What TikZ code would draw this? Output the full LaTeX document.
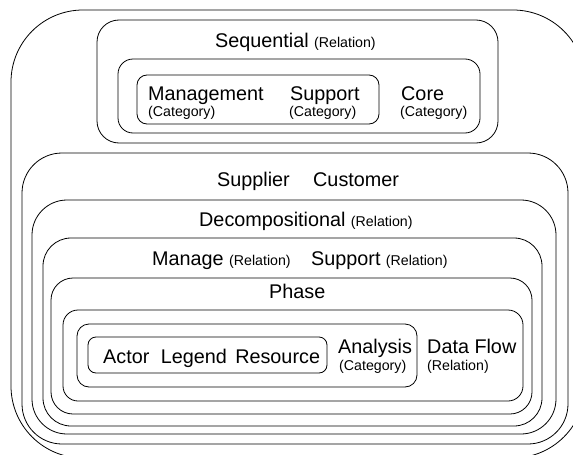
\documentclass[tikz,border=0pt]{standalone}
\usepackage{fontspec}
\setmainfont{Liberation Sans}
\usetikzlibrary{positioning}
\tikzset{>=latex}

\begin{document}
\begin{tikzpicture}[x=1pt,y=-1pt,
    frame/.style={draw,line width=0.8pt},
    big/.style={font=\fontsize{19.8}{22}\selectfont,inner sep=0pt,anchor=base west},
    small/.style={font=\fontsize{14.2}{16}\selectfont,inner sep=0pt,anchor=base west}]
  \useasboundingbox (0,0) rectangle (573,455);
  \clip (0,0) rectangle (573,455);
  % nested frames
  \draw[frame,rounded corners=72pt] (11,10) rectangle (585,458);
  \draw[frame,rounded corners=22pt] (97,20) rectangle (498,143);
  \draw[frame,rounded corners=15pt] (118,59) rectangle (480,133);
  \draw[frame,rounded corners=10pt] (137,75) rectangle (379,124);
  \draw[frame,rounded corners=40pt] (22,153) rectangle (568,444);
  \draw[frame,rounded corners=35pt] (32,200) rectangle (556,434);
  \draw[frame,rounded corners=28pt] (43,238) rectangle (542,426);
  \draw[frame,rounded corners=22pt] (51,278) rectangle (532,414);
  \draw[frame,rounded corners=15pt] (63,310) rectangle (523,401);
  \draw[frame,rounded corners=12pt] (77,324) rectangle (417,387);
  \draw[frame,rounded corners=8pt] (88,337) rectangle (327,373);
  % labels
  \node[big] (seq) at (215,47) {Sequential};
  \node[small,right=5pt of seq.base east,anchor=base west] (seqrel) {(Relation)};
  \node[big] (mgmt) at (148,100) {Management};
  \node[small] (mgmtcat) at (148,116) {(Category)};
  \node[big] (supp) at (290,100) {Support};
  \node[small] (suppcat) at (289,116) {(Category)};
  \node[big] (core) at (401,100) {Core};
  \node[small] (corecat) at (400,116) {(Category)};
  \node[big] (supplier) at (217,186) {Supplier};
  \node[big] (customer) at (313,186) {Customer};
  \node[big] (decomp) at (199,226) {Decompositional};
  \node[small,right=5pt of decomp.base east,anchor=base west] (decomprel) {(Relation)};
  \node[big] (manage) at (152,265) {Manage};
  \node[small,right=5pt of manage.base east,anchor=base west] (managerel) {(Relation)};
  \node[big] (support) at (311,265) {Support};
  \node[small,right=5pt of support.base east,anchor=base west] (supportrel) {(Relation)};
  \node[big] (phase) at (269,298) {Phase};
  \node[big] (actor) at (103,363) {Actor};
  \node[big,right=11pt of actor.base east,anchor=base west] (legend) {Legend};
  \node[big,right=8pt of legend.base east,anchor=base west] (resource) {Resource};
  \node[big] (analysis) at (338,353) {Analysis};
  \node[small] (analysiscat) at (339,370) {(Category)};
  \node[big] (dataflow) at (427,353) {Data Flow};
  \node[small] (dataflowrel) at (427,370) {(Relation)};
\end{tikzpicture}
\end{document}
